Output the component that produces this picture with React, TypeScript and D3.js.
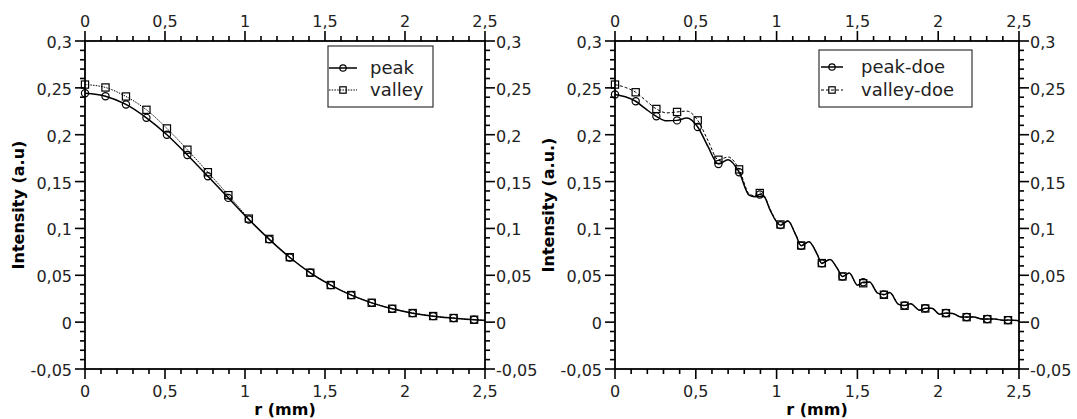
import React from "react";
import * as d3 from "d3";

// ---------- DATA ----------
const markerR = [0, 0.128, 0.256, 0.384, 0.512, 0.64, 0.768, 0.896, 1.024, 1.152, 1.28, 1.408, 1.536, 1.664, 1.792, 1.92, 2.048, 2.176, 2.304, 2.432];

// left panel (line runs through markers, then to r = 2.5)
const leftR = [0, 0.128, 0.256, 0.384, 0.512, 0.64, 0.768, 0.896, 1.024, 1.152, 1.28, 1.408, 1.536, 1.664, 1.792, 1.92, 2.048, 2.176, 2.304, 2.432, 2.5];
const peak = [0.2443, 0.2411, 0.2323, 0.218, 0.2, 0.1784, 0.1557, 0.1326, 0.1096, 0.0883, 0.069, 0.0527, 0.0395, 0.0288, 0.0206, 0.0142, 0.0096, 0.0064, 0.0043, 0.0025, 0.0018];
const valley = [0.2535, 0.2504, 0.2408, 0.2266, 0.2067, 0.184, 0.16, 0.1355, 0.1105, 0.0888, 0.0693, 0.0528, 0.0396, 0.0289, 0.0207, 0.0143, 0.0097, 0.0065, 0.0044, 0.0026, 0.0019];

// right panel (dense read of the wavy curves)
const rDoe = [0, 0.064, 0.128, 0.19, 0.256, 0.32, 0.384, 0.445, 0.512, 0.575, 0.64, 0.7, 0.768, 0.83, 0.865, 0.896, 0.925, 0.96, 1.024, 1.07, 1.12, 1.152, 1.2, 1.25, 1.28, 1.33, 1.375, 1.408, 1.45, 1.5, 1.536, 1.575, 1.625, 1.664, 1.7, 1.755, 1.792, 1.83, 1.885, 1.92, 1.96, 2.01, 2.048, 2.09, 2.14, 2.176, 2.22, 2.27, 2.304, 2.35, 2.4, 2.432, 2.5];
const peakDoe = [0.243, 0.2405, 0.2357, 0.2275, 0.2196, 0.2148, 0.2153, 0.2178, 0.2083, 0.1875, 0.1687, 0.1733, 0.16, 0.1355, 0.1338, 0.1362, 0.1335, 0.1195, 0.1035, 0.1078, 0.0925, 0.0815, 0.0857, 0.0728, 0.0627, 0.0668, 0.0575, 0.0486, 0.0525, 0.0395, 0.0425, 0.0428, 0.031, 0.0295, 0.0315, 0.019, 0.0178, 0.0196, 0.0128, 0.0148, 0.0149, 0.0085, 0.0098, 0.0093, 0.0055, 0.0055, 0.0056, 0.0033, 0.0033, 0.0033, 0.0021, 0.0022, 0.0016];
const valleyDoe = [0.2535, 0.2505, 0.2453, 0.2365, 0.2275, 0.2233, 0.2243, 0.2252, 0.2153, 0.194, 0.1733, 0.1762, 0.163, 0.137, 0.1348, 0.1378, 0.1345, 0.1205, 0.1042, 0.1082, 0.093, 0.0818, 0.0859, 0.073, 0.063, 0.067, 0.0577, 0.0488, 0.0525, 0.0395, 0.0415, 0.0426, 0.031, 0.0292, 0.0314, 0.019, 0.0175, 0.0195, 0.0128, 0.0146, 0.0148, 0.0085, 0.0096, 0.0092, 0.0055, 0.0053, 0.0055, 0.0033, 0.0032, 0.0033, 0.0021, 0.0021, 0.0016];

const xDomain = [0, 2.5];
const yDomain = [-0.05, 0.3];
const xLabel = "r (mm)";
const yLabelLeft = "Intensity (a.u)";
const yLabelRight = "Intensity (a.u.)";
const legendLeft = ["peak", "valley"];
const legendRight = ["peak-doe", "valley-doe"];

const FONT = "DejaVu Sans, Verdana, sans-serif";
const fmt = (v: number) => String(+v.toFixed(2)).replace(".", ",");

type Series = { r: number[]; v: number[]; marker: "circle" | "square"; dash?: string; width: number };

function Panel(props: {
  x0: number; x1: number; y0: number; y1: number;
  series: Series[]; yTitle: string;
  legend: string[];
  leg: { x: number; y: number; w: number; h: number; sx0: number; sx1: number; tx: number; rows: number[]; dash: string[] };
}) {
  const { x0, x1, y0, y1, series, yTitle, legend, leg } = props;
  const x = d3.scaleLinear().domain(xDomain).range([x0, x1]);
  const y = d3.scaleLinear().domain(yDomain).range([y1, y0]);
  const xMaj = x.ticks(5);
  const xMin = x.ticks(25);
  const yMaj = y.ticks(7);
  const yMin = y.ticks(35);
  const MAJ = 10, MIN = 5;
  const isMajX = (t: number) => xMaj.some((m) => Math.abs(m - t) < 1e-9);
  const isMajY = (t: number) => yMaj.some((m) => Math.abs(m - t) < 1e-9);
  const line = d3.line<number>().curve(d3.curveMonotoneX);
  const tc = "#222";

  const drawMarker = (kind: string, cx: number, cy: number, key: string, s = 3.6) =>
    kind === "circle" ? (
      <circle key={key} cx={cx} cy={cy} r={s} fill="none" stroke="black" strokeWidth={1.2} />
    ) : (
      <rect key={key} x={cx - s} y={cy - s} width={2 * s} height={2 * s} fill="none" stroke="black" strokeWidth={1.2} />
    );

  return (
    <g>
      {series.map((s, si) => {
        const pts = s.r.map((r, i) => [x(r), y(s.v[i])] as [number, number]);
        return (
          <path key={"s" + si} d={line(pts as any) || ""} fill="none" stroke="black" strokeWidth={s.width} strokeDasharray={s.dash} />
        );
      })}
      {series.map((s, si) =>
        markerR.map((mr, mi) => {
          const idx = s.r.findIndex((r) => Math.abs(r - mr) < 1e-9);
          if (idx < 0) return null;
          return drawMarker(s.marker, x(mr), y(s.v[idx]), `m${si}-${mi}`);
        })
      )}
      <rect x={x0} y={y0} width={x1 - x0} height={y1 - y0} fill="none" stroke="black" strokeWidth={1.8} />
      {xMin.map((t, i) => {
        const len = isMajX(t) ? MAJ : MIN;
        const px = x(t);
        return (
          <g key={"xt" + i}>
            <line x1={px} x2={px} y1={y1} y2={y1 + len} stroke="black" strokeWidth={1.6} />
            <line x1={px} x2={px} y1={y0} y2={y0 - len} stroke="black" strokeWidth={1.6} />
          </g>
        );
      })}
      {yMin.map((t, i) => {
        const len = isMajY(t) ? MAJ : MIN;
        const py = y(t);
        return (
          <g key={"yt" + i}>
            <line x1={x0} x2={x0 - len} y1={py} y2={py} stroke="black" strokeWidth={1.6} />
            <line x1={x1} x2={x1 + len} y1={py} y2={py} stroke="black" strokeWidth={1.6} />
          </g>
        );
      })}
      {xMaj.map((t, i) => (
        <g key={"xl" + i} fontFamily={FONT} fontSize={16} fill={tc} textAnchor="middle">
          <text x={x(t)} y={y1 + 28}>{fmt(t)}</text>
          <text x={x(t)} y={y0 - 14}>{fmt(t)}</text>
        </g>
      ))}
      {yMaj.map((t, i) => (
        <g key={"yl" + i} fontFamily={FONT} fontSize={16} fill={tc}>
          <text x={x0 - 13} y={y(t) + 7} textAnchor="end">{fmt(t)}</text>
          <text x={x1 + 11} y={y(t) + 7} textAnchor="start">{fmt(t)}</text>
        </g>
      ))}
      <text x={(x0 + x1) / 2} y={y1 + 46} textAnchor="middle" fontFamily={FONT} fontWeight="bold" fontSize={16} fill="black">{xLabel}</text>
      <text transform={`translate(${x0 - 61},${(y0 + y1) / 2}) rotate(-90)`} textAnchor="middle" fontFamily={FONT} fontWeight="bold" fontSize={16} fill="black">{yTitle}</text>
      <rect x={leg.x} y={leg.y} width={leg.w} height={leg.h} fill="white" stroke="#333" strokeWidth={1.2} />
      {legend.map((name, i) => (
        <g key={"lg" + i}>
          <line x1={leg.sx0} x2={leg.sx1} y1={leg.rows[i]} y2={leg.rows[i]} stroke="black" strokeWidth={i === 0 ? 1.5 : 1} strokeDasharray={leg.dash[i]} />
          {drawMarker(series[i].marker, (leg.sx0 + leg.sx1) / 2, leg.rows[i], "lm" + i, 3.2)}
          <text x={leg.tx} y={leg.rows[i] + 6} fontFamily={FONT} fontSize={18} fill={tc}>{name}</text>
        </g>
      ))}
    </g>
  );
}

export default function App() {
  return (
    <svg width={1077} height={419} style={{ position: "absolute", left: 0, top: 0, background: "white" }}>
      <rect x={0} y={0} width={1077} height={419} fill="white" />
      <Panel
        x0={85} x1={485} y0={41} y1={369}
        yTitle={yLabelLeft}
        legend={legendLeft}
        series={[
          { r: leftR, v: peak, marker: "circle", width: 1.5 },
          { r: leftR, v: valley, marker: "square", dash: "1.5,1.2", width: 1 },
        ]}
        leg={{ x: 328, y: 46, w: 105, h: 61, sx0: 329, sx1: 357, tx: 370, rows: [68, 90], dash: ["", "1.5,1.2"] }}
      />
      <Panel
        x0={615} x1={1019} y0={41} y1={369}
        yTitle={yLabelRight}
        legend={legendRight}
        series={[
          { r: rDoe, v: peakDoe, marker: "circle", width: 1.5 },
          { r: rDoe, v: valleyDoe, marker: "square", dash: "3,2", width: 1 },
        ]}
        leg={{ x: 819, y: 50, w: 153, h: 57, sx0: 821, sx1: 843, tx: 861, rows: [67, 90], dash: ["", "3,2"] }}
      />
    </svg>
  );
}
